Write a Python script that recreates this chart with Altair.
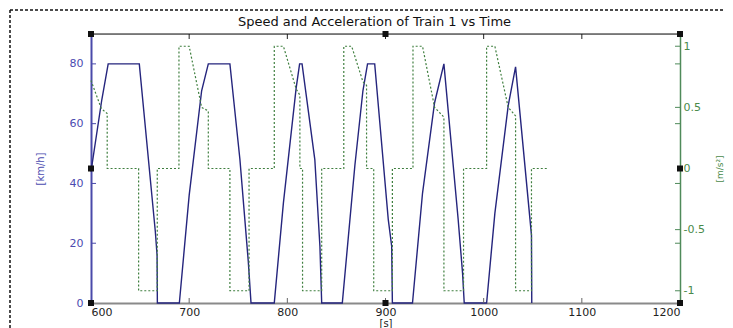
import altair as alt
import pandas as pd

# ---- data ----
speed_t = [600, 611, 617.5, 649.2, 665.5, 667.3, 667.6,
           690, 700, 712.7, 719.5, 741.5, 751.7, 760.2, 763,
           786.7, 796, 809, 812.5, 815, 828, 833.2, 835,
           856, 868.8, 877, 881.7, 889, 902.8, 906.3, 907,
           927.5, 937.7, 950, 959.5, 974, 978.5, 980.2,
           1003, 1011.4, 1025, 1032.5, 1048.7, 1049]
speed_v = [44, 68, 80, 80, 24, 16, 0,
           0, 36, 71, 80, 80, 48, 14, 0,
           0, 33.5, 72, 80, 80, 48, 19, 0,
           0, 46, 71, 80, 80, 28, 19, 0,
           0, 36.7, 67, 80, 28, 10, 0,
           0, 30, 66, 79, 22.7, 0]

acc_t = [600, 610.5, 616.5, 616.5, 648.5, 648.5, 667.5, 667.5,
         689.6, 689.6, 700, 712.7, 719.5, 719.5, 741.5, 741.5, 761, 761,
         786.7, 786.7, 796, 809, 812.8, 812.8, 815.5, 815.5, 835, 835,
         857.5, 857.5, 865.5, 877, 880.7, 880.7, 888, 888, 907, 907,
         928, 928, 937.7, 950, 959.5, 959.5, 979.5, 979.5,
         1003, 1003, 1011.4, 1025, 1032.5, 1032.5, 1048.7, 1048.7, 1065.7]
acc_a = [0.72, 0.49, 0.45, 0, 0, -1, -1, 0,
         0, 1, 1, 0.5, 0.47, 0, 0, -1, -1, 0,
         0, 1, 1, 0.65, 0.6, 0, 0, -1, -1, 0,
         0, 1, 1, 0.71, 0.68, 0, 0, -1, -1, 0,
         0, 1, 1, 0.5, 0.42, -1, -1, 0,
         0, 1, 1, 0.5, 0.43, -1, -1, 0, 0]

x_labels = [600, 700, 800, 900, 1000, 1100, 1200]
x_inner_ticks = [700, 800, 900, 1000, 1100]
speed_ticks = [0, 20, 40, 60, 80]
speed_inner_ticks = [20, 40, 60, 80]
acc_ticks = [-1, -0.5, 0, 0.5, 1]
acc_inner_ticks = [-1, -0.5, 0.5, 1]
handle_t = [600, 600, 600, 900, 900, 1200, 1200, 1200]
handle_v = [0, 45, 90, 0, 90, 0, 45, 90]
title_text = "Speed and Acceleration of Train 1 vs Time"

W, H = 589, 269
FONT = "DejaVu Sans"
BLUE = "#25257d"
BLUE_AX = "#4a4aaa"
GREEN = "#3f7f3f"
GREEN_AX = "#4f8a5a"

df_speed = pd.DataFrame({"t": speed_t, "v": speed_v, "i": range(len(speed_t))})
df_acc = pd.DataFrame({"t": acc_t, "a": acc_a, "i": range(len(acc_t))})

x_scale = alt.Scale(domain=[600, 1200], nice=False, zero=False)
speed_scale = alt.Scale(domain=[0, 90], nice=False, zero=False)
acc_scale = alt.Scale(domain=[-1.1, 1.1], nice=False, zero=False)

X = alt.X("t:Q", scale=x_scale,
          axis=alt.Axis(values=x_labels, tickSize=0, labelPadding=3,
                        domainColor="#8a8a8a", domainWidth=2,
                        labelExpr="'' + datum.value",
                        labelColor="#222222", labelFontSize=11, labelFont=FONT,
                        title="[s]", titleFontSize=10, titleFont=FONT,
                        titleFontWeight="normal", titleColor="#222222",
                        titlePadding=1, grid=False))

speed = alt.Chart(df_speed).mark_line(color=BLUE, strokeWidth=1.4).encode(
    x=X,
    y=alt.Y("v:Q", scale=speed_scale,
            axis=alt.Axis(orient="left", values=speed_ticks, tickSize=0,
                          labelPadding=8, domainColor=BLUE_AX, domainWidth=2,
                          labelColor="#4b4bb0", labelFontSize=11, labelFont=FONT,
                          title="[km/h]", titleColor="#4b4bb0", titleFontSize=10,
                          titleFont=FONT, titleFontWeight="normal",
                          titlePadding=24, grid=False)),
    order="i:Q",
)

acc = alt.Chart(df_acc).mark_line(color=GREEN, strokeWidth=1.2, strokeDash=[2, 2]).encode(
    x=X,
    y=alt.Y("a:Q", scale=acc_scale,
            axis=alt.Axis(orient="right", values=acc_ticks, tickSize=0,
                          labelPadding=3, domainColor=GREEN_AX, domainWidth=1.5,
                          labelColor="#4a8a4a", labelFontSize=11, labelFont=FONT,
                          labelExpr="'' + datum.value",
                          title="[m/s²]", titleColor="#4a8a4a", titleFontSize=9,
                          titleFont=FONT, titleFontWeight="normal", titleAngle=270,
                          titlePadding=20, grid=False)),
    order="i:Q",
)

one = pd.DataFrame({"k": [0]})
df_xt = pd.DataFrame({"t": x_inner_ticks})

bottom_ticks = alt.Chart(df_xt).mark_rule(color="#666666").encode(
    x=X, y=alt.value(H), y2=alt.value(H - 5))
top_ticks = alt.Chart(df_xt).mark_rule(color="#222222").encode(
    x=X, y=alt.value(0), y2=alt.value(5))

df_vt = pd.DataFrame({"v": speed_inner_ticks})
left_ticks = alt.Chart(df_vt).mark_rule(color=BLUE_AX).encode(
    y=alt.Y("v:Q", scale=speed_scale, axis=None), x=alt.value(0), x2=alt.value(5))
right_speed_ticks = alt.Chart(df_vt).mark_rule(color=GREEN_AX).encode(
    y=alt.Y("v:Q", scale=speed_scale, axis=None), x=alt.value(W), x2=alt.value(W - 5))

df_at = pd.DataFrame({"a": acc_inner_ticks})
right_acc_ticks = alt.Chart(df_at).mark_rule(color=GREEN_AX).encode(
    y=alt.Y("a:Q", scale=acc_scale, axis=None), x=alt.value(W), x2=alt.value(W - 5))

top_line = alt.Chart(one).mark_rule(color="#111111", strokeWidth=1).encode(
    x=alt.value(0), x2=alt.value(W), y=alt.value(0))

border_top = alt.Chart(one).mark_rule(color="#111111", strokeWidth=1.5, strokeDash=[3, 2]).encode(
    x=alt.value(-81), x2=alt.value(W + 60), y=alt.value(-24))
border_left = alt.Chart(one).mark_rule(color="#111111", strokeWidth=1.5, strokeDash=[3, 2]).encode(
    x=alt.value(-81), y=alt.value(-24), y2=alt.value(H + 40))

df_title = pd.DataFrame({"label": [title_text]})
title_mark = alt.Chart(df_title).mark_text(
    font=FONT, fontSize=13, color="#111111", align="center", baseline="middle"
).encode(text="label:N", x=alt.value(W / 2 - 11), y=alt.value(-12))

df_h = pd.DataFrame({"t": handle_t, "v": handle_v})
handles = alt.Chart(df_h).mark_square(size=36, color="#111111", opacity=1).encode(
    x=X, y=alt.Y("v:Q", scale=speed_scale, axis=None))

chart = alt.layer(
    speed, acc, bottom_ticks, top_ticks, left_ticks, right_speed_ticks,
    right_acc_ticks, top_line, border_top, border_left, title_mark, handles
).resolve_scale(y="independent").properties(
    width=W, height=H,
    autosize=alt.AutoSizeParams(type="none"),
    padding={"left": 83, "top": 26, "right": 45, "bottom": 25},
).configure_view(stroke=None).configure(background="white")

chart.save("out.html", embed_options={"renderer": "svg", "actions": False})
